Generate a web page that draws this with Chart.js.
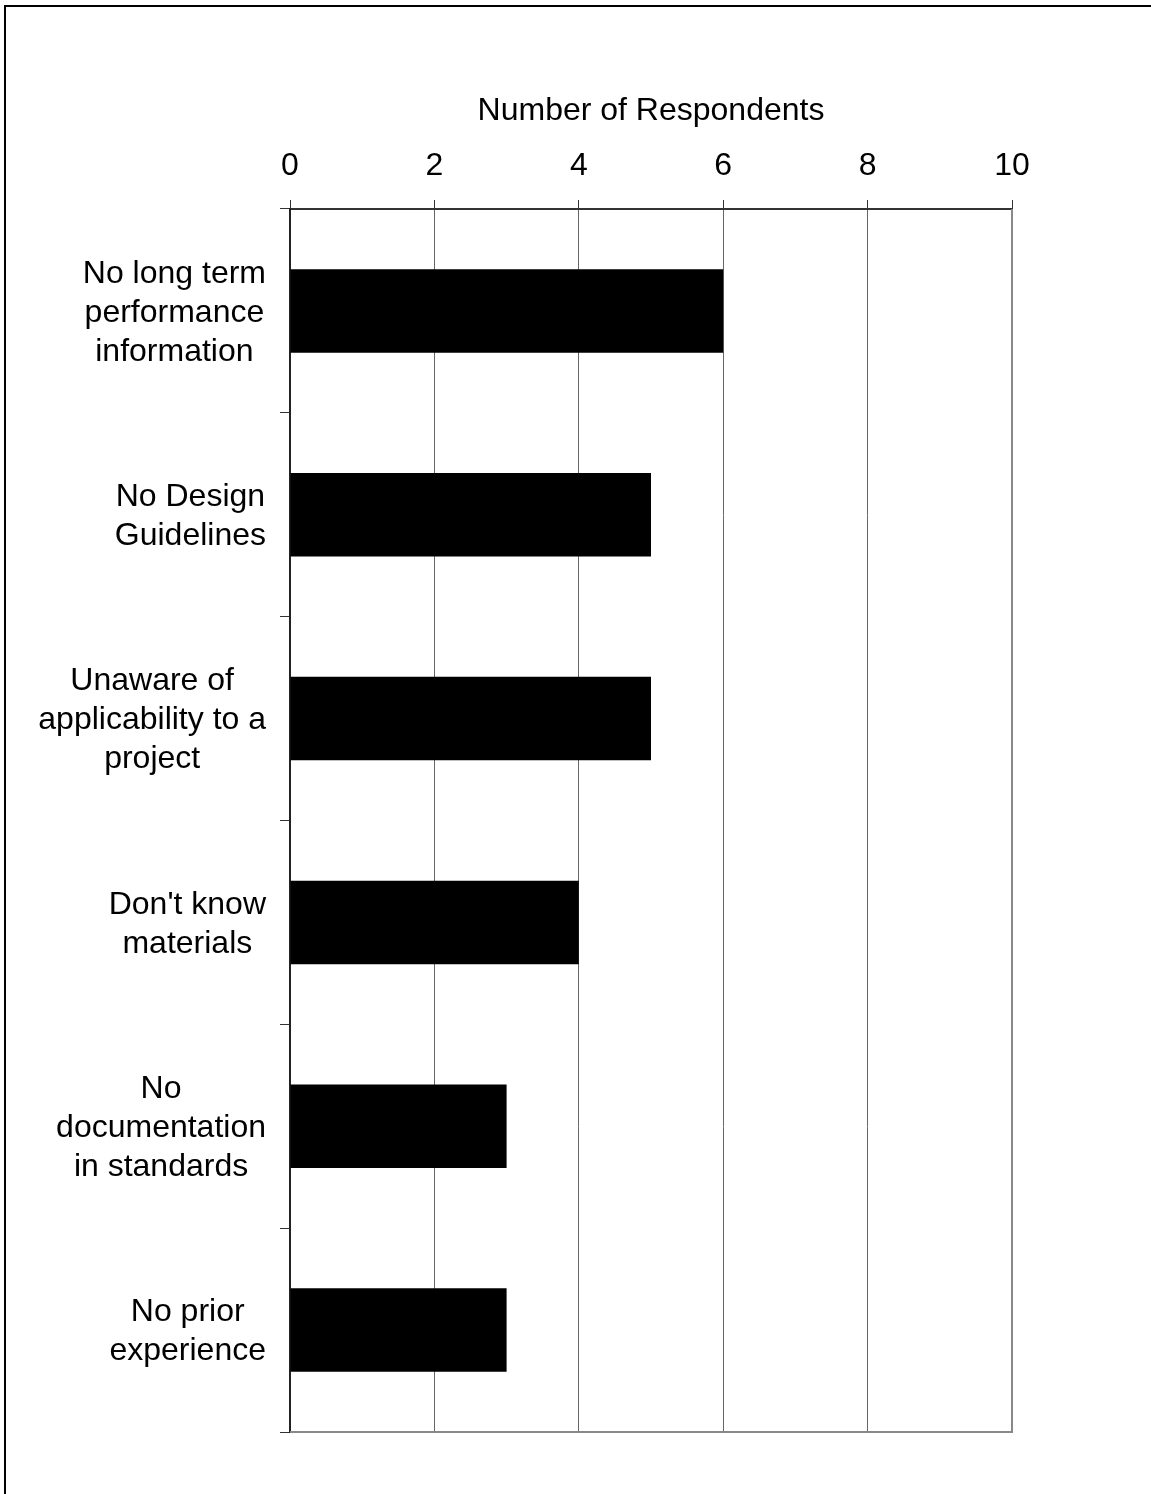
<!DOCTYPE html>
<html>
<head>
<meta charset="utf-8">
<script src="https://cdn.jsdelivr.net/npm/chart.js@4.4.0/dist/chart.umd.min.js"></script>
<style>
  html, body { margin: 0; padding: 0; background: #fff; }
  #wrap { width: 1151px; height: 1494px; }
</style>
</head>
<body>
<div id="wrap"><canvas id="myChart" width="1151" height="1494"></canvas></div>
<script>
var categories = [
    ['No long term', 'performance', 'information'],
    ['No Design', 'Guidelines'],
    ['Unaware of', 'applicability to a', 'project'],
    ["Don't know", 'materials'],
    ['No', 'documentation', 'in standards'],
    ['No prior', 'experience']
];
var respondents = [6, 5, 5, 4, 3, 3];
var xTicks = [0, 2, 4, 6, 8, 10];

var FONT = '"Liberation Sans", Arial, sans-serif';

// multi-line category labels: block right aligned, lines centred inside
var yLabels = {
    id: 'yLabels',
    afterDraw: function(chart) {
        var ctx = chart.ctx;
        var yScale = chart.scales.y;
        ctx.save();
        ctx.font = '32px ' + FONT;
        ctx.fillStyle = '#000';
        ctx.textAlign = 'center';
        ctx.textBaseline = 'middle';
        categories.forEach(function(lines, i) {
            var y = yScale.getPixelForValue(i) + 2;
            var w = 0;
            lines.forEach(function(l) { w = Math.max(w, ctx.measureText(l).width); });
            var cx = yScale.right - 24 - w / 2;
            lines.forEach(function(l, j) {
                ctx.fillText(l, cx, y + (j - (lines.length - 1) / 2) * 39);
            });
        });
        // outer frame (top and left only)
        ctx.fillStyle = '#000';
        ctx.fillRect(4, 5, 1147, 2);
        ctx.fillRect(4, 5, 2, 1489);
        ctx.restore();
    }
};

var plotEdges = {
    id: 'plotEdges',
    beforeDatasetsDraw: function(chart) {
        var a = chart.chartArea;
        var ctx = chart.ctx;
        ctx.save();
        ctx.strokeStyle = '#888';
        ctx.lineWidth = 2;
        ctx.beginPath();
        ctx.moveTo(a.left, a.bottom);
        ctx.lineTo(a.right, a.bottom);
        ctx.lineTo(a.right, a.top);
        ctx.stroke();
        ctx.restore();
    }
};

var ctx = document.getElementById('myChart').getContext('2d');
var chart = new Chart(ctx, {
    type: 'bar',
    data: {
        labels: categories,
        datasets: [{
            label: 'Number of Respondents',
            data: respondents,
            backgroundColor: '#000',
            borderWidth: 0,
            barPercentage: 0.41,
            categoryPercentage: 1
        }]
    },
    options: {
        indexAxis: 'y',
        responsive: false,
        animation: false,
        layout: { padding: { left: 0, right: 139, top: 0, bottom: 62 } },
        plugins: {
            legend: { display: false },
            tooltip: { enabled: false }
        },
        scales: {
            x: {
                position: 'top',
                min: 0,
                max: 10,
                afterBuildTicks: function(scale) {
                    scale.ticks = xTicks.map(function(v) { return { value: v }; });
                },
                afterFit: function(scale) { scale.height = 209; },
                ticks: {
                    color: '#000',
                    padding: 15,
                    font: { family: FONT, size: 32 }
                },
                grid: {
                    color: '#666',
                    lineWidth: 1,
                    tickLength: 9,
                    tickColor: '#333'
                },
                border: { color: '#333', width: 2 },
                title: {
                    display: true,
                    text: 'Number of Respondents',
                    color: '#000',
                    font: { family: FONT, size: 32 },
                    padding: { top: 92, bottom: 0 }
                }
            },
            y: {
                afterFit: function(scale) { scale.width = 290; },
                ticks: { display: false },
                grid: {
                    drawOnChartArea: false,
                    drawTicks: true,
                    tickLength: 10,
                    color: '#333'
                },
                border: { color: '#222', width: 2 }
            }
        }
    },
    plugins: [plotEdges, yLabels]
});
</script>
</body>
</html>
